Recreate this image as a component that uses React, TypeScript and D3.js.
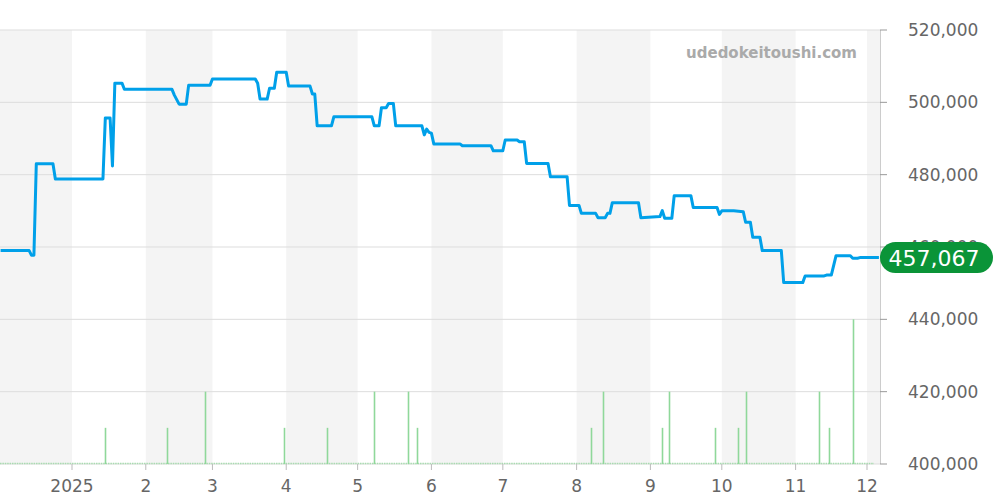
import React from "react";
import * as d3 from "d3";

// ---- Data ----
const priceDates: string[] = [
  "2024-12-02", "2024-12-14", "2024-12-15", "2024-12-16", "2024-12-17", "2024-12-24", "2024-12-25",
  "2025-01-14", "2025-01-15", "2025-01-17", "2025-01-18", "2025-01-19", "2025-01-22", "2025-01-23",
  "2025-02-12", "2025-02-13", "2025-02-15", "2025-02-18", "2025-02-19", "2025-02-28",
  "2025-03-01", "2025-03-19", "2025-03-20", "2025-03-21", "2025-03-24", "2025-03-25", "2025-03-27", "2025-03-28",
  "2025-04-01", "2025-04-02", "2025-04-11", "2025-04-12", "2025-04-13", "2025-04-14", "2025-04-20", "2025-04-21",
  "2025-05-07", "2025-05-08", "2025-05-10", "2025-05-11", "2025-05-13", "2025-05-14", "2025-05-16", "2025-05-17",
  "2025-05-28", "2025-05-29", "2025-05-30", "2025-05-31", "2025-06-01", "2025-06-02", "2025-06-13", "2025-06-14",
  "2025-06-26", "2025-06-27", "2025-07-01", "2025-07-02", "2025-07-07", "2025-07-08", "2025-07-10", "2025-07-11",
  "2025-07-20", "2025-07-21", "2025-07-28", "2025-07-29", "2025-08-02", "2025-08-03", "2025-08-09", "2025-08-10",
  "2025-08-13", "2025-08-14", "2025-08-15", "2025-08-16", "2025-08-27", "2025-08-28", "2025-09-05", "2025-09-06",
  "2025-09-07", "2025-09-10", "2025-09-11", "2025-09-18", "2025-09-19", "2025-09-29", "2025-09-30", "2025-10-01",
  "2025-10-06", "2025-10-10", "2025-10-11", "2025-10-13", "2025-10-14", "2025-10-17", "2025-10-18", "2025-10-26",
  "2025-10-27", "2025-11-04", "2025-11-05", "2025-11-13", "2025-11-14", "2025-11-16", "2025-11-18", "2025-11-24",
  "2025-11-25", "2025-11-27", "2025-11-28", "2025-12-06",
];
const priceValues: number[] = [
  459000, 459000, 457700, 457700, 483000, 483000, 478800,
  478800, 495700, 495700, 482400, 505300, 505300, 503600,
  503600, 502000, 499500, 499500, 504700, 504700,
  506450, 506450, 505260, 500900, 500900, 503900, 503900, 508300,
  508300, 504500, 504500, 502300, 502300, 493500, 493500, 496000,
  496000, 493500, 493500, 498500, 498500, 499700, 499700, 493500,
  493500, 491000, 492600, 491700, 491500, 488500, 488500, 488000,
  488000, 486600, 486600, 489600, 489600, 489100, 489100, 483100,
  483100, 479450, 479450, 471500, 471500, 469300, 469300, 468100,
  468100, 469300, 469300, 472250, 472250, 468100, 468400, 470050,
  467950, 467950, 474200, 474200, 470900, 470900, 469000, 470000,
  470000, 469760, 466850, 466850, 462700, 462700, 459000, 459000,
  450150, 450150, 452000, 452000, 452250, 452250, 457600, 457600,
  456880, 456880, 457067, 457067,
];

const volumeDates: string[] = [
  "2025-01-15", "2025-02-10", "2025-02-26", "2025-03-31", "2025-04-18", "2025-05-08", "2025-05-22", "2025-05-26",
  "2025-08-07", "2025-08-12", "2025-09-06", "2025-09-09", "2025-09-28", "2025-10-08", "2025-10-11", "2025-11-11",
  "2025-11-15", "2025-11-25",
];
const volumeValues: number[] = [1, 1, 2, 1, 1, 2, 2, 1, 1, 2, 1, 2, 1, 1, 2, 2, 1, 4];

const yTicks: number[] = [400000, 420000, 440000, 460000, 480000, 500000, 520000];
const monthTickLabels: string[] = ["2025", "2", "3", "4", "5", "6", "7", "8", "9", "10", "11", "12"];
const lastPriceLabel = "457,067";
const watermark = "udedokeitoushi.com";

const parse = d3.timeParse("%Y-%m-%d");

export default function App() {
  const W = 1000;
  const H = 500;
  const left = 0;
  const right = 880;
  const top = 30;
  const bottom = 464;
  const font = "'DejaVu Sans', sans-serif";

  const x = d3
    .scaleTime()
    .domain([new Date(2024, 11, 1, 18), new Date(2025, 11, 6, 11)])
    .range([left, right]);
  const y = d3.scaleLinear().domain([400000, 520000]).range([bottom, top]);
  const yVol = d3.scaleLinear().domain([0, 12]).range([bottom, top]);

  const monthStarts = d3.timeMonth.range(new Date(2024, 11, 1), new Date(2026, 0, 1));
  const bands = monthStarts.map((m, i) => {
    const next = d3.timeMonth.offset(m, 1);
    const x0 = Math.max(left, x(m));
    const x1 = Math.min(right, x(next));
    return { x0, x1, shaded: i % 2 === 0 };
  });
  const tickMonths = d3.timeMonth.range(new Date(2025, 0, 1), new Date(2025, 11, 2));

  const pts = priceDates.map((d, i) => [parse(d) as Date, priceValues[i]] as [Date, number]);
  const line = d3
    .line<[Date, number]>()
    .x((d) => x(d[0]))
    .y((d) => y(d[1]))
    .curve(d3.curveLinear);

  const lastY = y(priceValues[priceValues.length - 1]);

  return (
    <div style={{ position: "absolute", left: 0, top: 0 }}>
      <svg width={W} height={H} style={{ display: "block", background: "#fff" }}>
        {bands.map((b, i) =>
          b.shaded && b.x1 > b.x0 ? (
            <rect key={i} x={b.x0} y={top} width={b.x1 - b.x0} height={bottom - top} fill="#f4f4f4" />
          ) : null
        )}
        {yTicks.map((t) => (
          <line key={t} x1={left} x2={right} y1={y(t)} y2={y(t)} stroke="#dddddd" strokeWidth={1} />
        ))}
        {/* zero volume baseline */}
        <line
          x1={left}
          x2={right - 6}
          y1={bottom - 0.5}
          y2={bottom - 0.5}
          stroke="#a8dcb0"
          strokeWidth={1.5}
          strokeDasharray="1.5 0.9"
        />
        {volumeDates.map((d, i) => {
          const xx = Math.round(x(parse(d) as Date)) + 0.5;
          return (
            <line
              key={d}
              x1={xx}
              x2={xx}
              y1={bottom}
              y2={yVol(volumeValues[i])}
              stroke="#8fd89a"
              strokeWidth={1.6}
            />
          );
        })}
        {/* y axis */}
        <line x1={right + 0.5} x2={right + 0.5} y1={top} y2={bottom} stroke="#cccccc" strokeWidth={1} />
        {yTicks.map((t) => (
          <g key={t}>
            <line x1={right} x2={right + 7} y1={y(t)} y2={y(t)} stroke="#999" strokeWidth={1} />
            <text
              x={908}
              y={y(t)}
              dy="0.35em"
              fontFamily={font}
              fontSize={17}
              fill="#666"
            >
              {d3.format(",")(t)}
            </text>
          </g>
        ))}
        {/* x axis */}
        {tickMonths.map((m, i) => (
          <g key={i}>
            <line x1={x(m)} x2={x(m)} y1={bottom} y2={bottom + 6} stroke="#bbb" strokeWidth={1} />
            <text
              x={x(m)}
              y={bottom + 28}
              textAnchor="middle"
              fontFamily={font}
              fontSize={17}
              fill="#666"
            >
              {monthTickLabels[i]}
            </text>
          </g>
        ))}
        {/* price line */}
        <path d={line(pts) || ""} fill="none" stroke="#00a0e9" strokeWidth={3} strokeLinejoin="round" />
        {/* watermark */}
        <text
          x={857}
          y={58}
          textAnchor="end"
          fontFamily={font}
          fontWeight="bold"
          fontSize={15}
          fill="#aaaaaa"
        >
          {watermark}
        </text>
        {/* last price label */}
        <rect x={880} y={lastY - 15.5} width={113} height={31} rx={15.5} ry={15.5} fill="#0a9438" />
        <text
          x={934}
          y={lastY}
          dy="0.36em"
          textAnchor="middle"
          fontFamily={font}
          fontSize={22}
          fill="#ffffff"
        >
          {lastPriceLabel}
        </text>
      </svg>
    </div>
  );
}
